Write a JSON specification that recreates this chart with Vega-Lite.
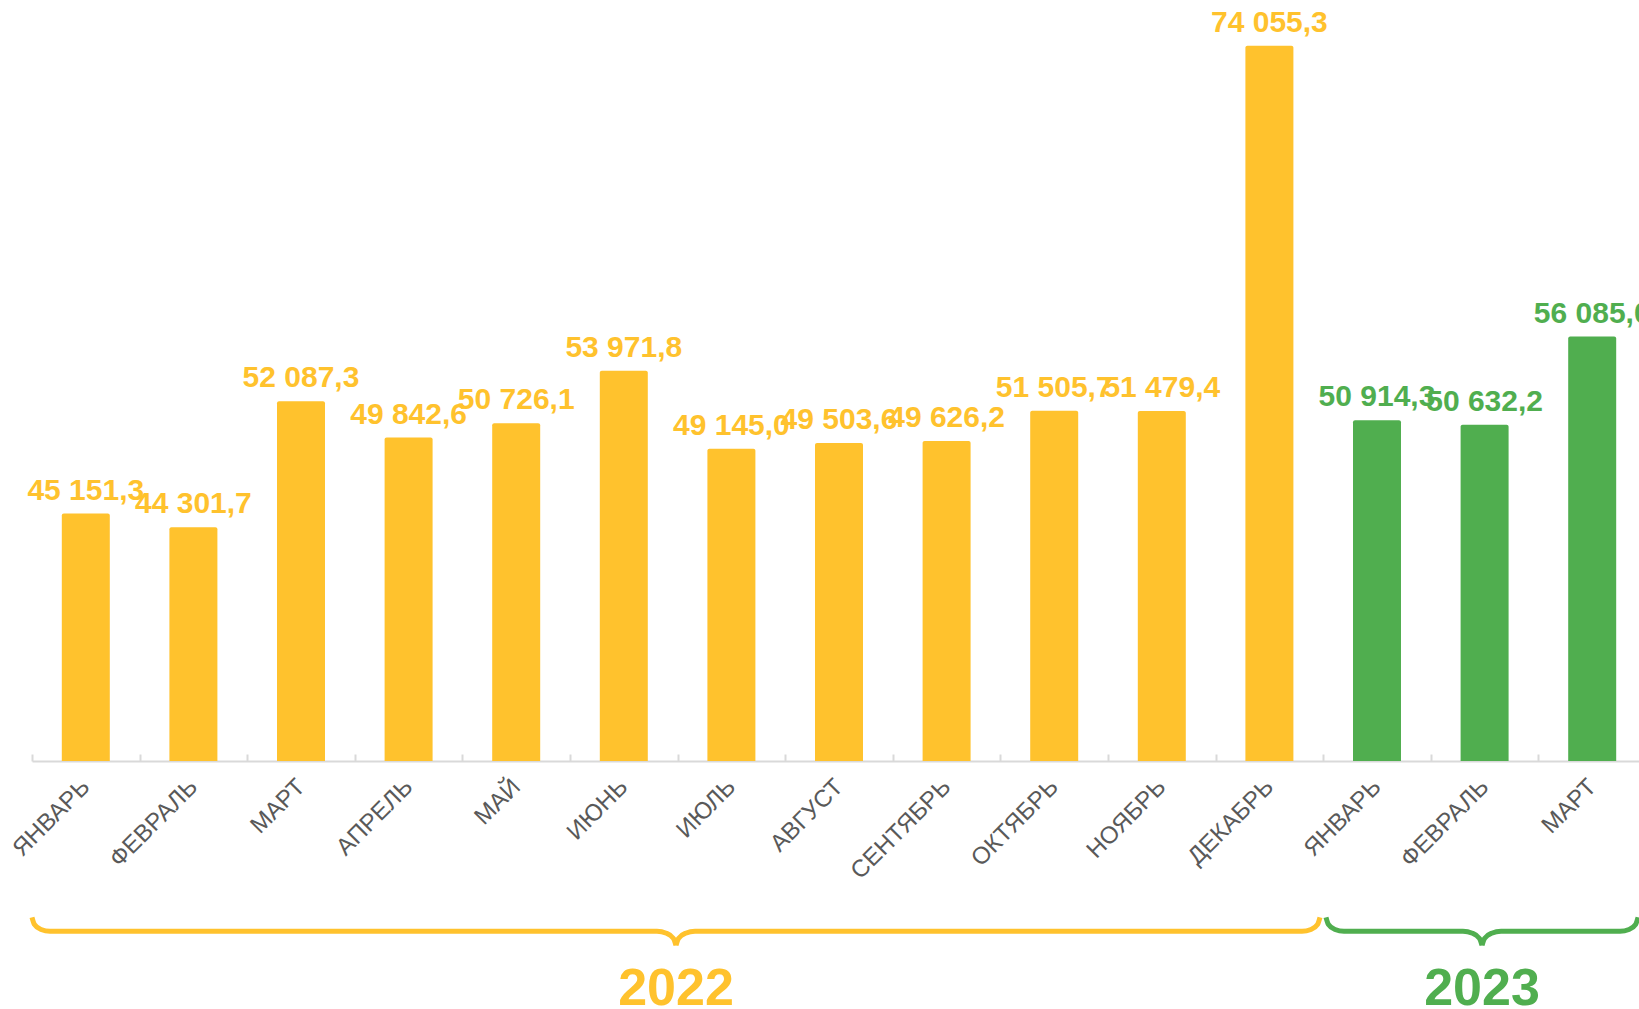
{
  "$schema": "https://vega.github.io/schema/vega-lite/v6.json",
  "width": 1607,
  "height": 761,
  "autosize": {"type": "none"},
  "padding": {"left": 32, "top": 0, "right": 0, "bottom": 248},
  "background": "white",
  "config": {
    "view": {"stroke": null},
    "font": "Liberation Sans",
    "locale": {"number": {"decimal": ",", "thousands": " ", "grouping": [3], "currency": ["", ""]}}
  },
  "datasets": {
    "bars": [
      {"month": "ЯНВАРЬ", "year": "2022", "value": 45151.3},
      {"month": "ФЕВРАЛЬ", "year": "2022", "value": 44301.7},
      {"month": "МАРТ", "year": "2022", "value": 52087.3},
      {"month": "АПРЕЛЬ", "year": "2022", "value": 49842.6},
      {"month": "МАЙ", "year": "2022", "value": 50726.1},
      {"month": "ИЮНЬ", "year": "2022", "value": 53971.8},
      {"month": "ИЮЛЬ", "year": "2022", "value": 49145.0},
      {"month": "АВГУСТ", "year": "2022", "value": 49503.6},
      {"month": "СЕНТЯБРЬ", "year": "2022", "value": 49626.2},
      {"month": "ОКТЯБРЬ", "year": "2022", "value": 51505.7},
      {"month": "НОЯБРЬ", "year": "2022", "value": 51479.4},
      {"month": "ДЕКАБРЬ", "year": "2022", "value": 74055.3},
      {"month": "ЯНВАРЬ\u200b", "year": "2023", "value": 50914.3},
      {"month": "ФЕВРАЛЬ\u200b", "year": "2023", "value": 50632.2},
      {"month": "МАРТ\u200b", "year": "2023", "value": 56085.0}
    ],
    "braces": [
      {"seg": "2022L", "year": "2022", "u": 0, "v": 20198},
      {"seg": "2022L", "year": "2022", "u": 0.022, "v": 19765},
      {"seg": "2022L", "year": "2022", "u": 0.084, "v": 19450},
      {"seg": "2022L", "year": "2022", "u": 0.167, "v": 19332},
      {"seg": "2022L", "year": "2022", "u": 5.808, "v": 19332},
      {"seg": "2022L", "year": "2022", "u": 5.896, "v": 19215},
      {"seg": "2022L", "year": "2022", "u": 5.961, "v": 18900},
      {"seg": "2022L", "year": "2022", "u": 5.985, "v": 18467},
      {"seg": "2022R", "year": "2022", "u": 5.985, "v": 18467},
      {"seg": "2022R", "year": "2022", "u": 6.009, "v": 18900},
      {"seg": "2022R", "year": "2022", "u": 6.074, "v": 19215},
      {"seg": "2022R", "year": "2022", "u": 6.162, "v": 19332},
      {"seg": "2022R", "year": "2022", "u": 11.803, "v": 19332},
      {"seg": "2022R", "year": "2022", "u": 11.886, "v": 19450},
      {"seg": "2022R", "year": "2022", "u": 11.948, "v": 19765},
      {"seg": "2022R", "year": "2022", "u": 11.97, "v": 20198},
      {"seg": "2023L", "year": "2023", "u": 12.026, "v": 20198},
      {"seg": "2023L", "year": "2023", "u": 12.048, "v": 19765},
      {"seg": "2023L", "year": "2023", "u": 12.11, "v": 19450},
      {"seg": "2023L", "year": "2023", "u": 12.193, "v": 19332},
      {"seg": "2023L", "year": "2023", "u": 13.299, "v": 19332},
      {"seg": "2023L", "year": "2023", "u": 13.387, "v": 19215},
      {"seg": "2023L", "year": "2023", "u": 13.452, "v": 18900},
      {"seg": "2023L", "year": "2023", "u": 13.476, "v": 18467},
      {"seg": "2023R", "year": "2023", "u": 13.476, "v": 18467},
      {"seg": "2023R", "year": "2023", "u": 13.5, "v": 18900},
      {"seg": "2023R", "year": "2023", "u": 13.565, "v": 19215},
      {"seg": "2023R", "year": "2023", "u": 13.653, "v": 19332},
      {"seg": "2023R", "year": "2023", "u": 14.759, "v": 19332},
      {"seg": "2023R", "year": "2023", "u": 14.842, "v": 19450},
      {"seg": "2023R", "year": "2023", "u": 14.904, "v": 19765},
      {"seg": "2023R", "year": "2023", "u": 14.926, "v": 20198}
    ],
    "years": [
      {"year": "2022", "u": 5.985, "v": 14758},
      {"year": "2023", "u": 13.476, "v": 14758}
    ]
  },
  "layer": [
    {
      "data": {"name": "bars"},
      "encoding": {
        "x": {
          "field": "month",
          "type": "nominal",
          "sort": null,
          "scale": {"range": [0, 1614], "paddingInner": 0, "paddingOuter": 0},
          "axis": {
            "title": null,
            "labelAngle": -45,
            "labelAlign": "right",
            "labelBaseline": "middle",
            "labelFont": "Liberation Sans",
            "labelFontSize": 24,
            "labelColor": "#595959",
            "labelPadding": 29,
            "domainColor": "#D9D9D9",
            "domainWidth": 2,
            "tickColor": "#D9D9D9",
            "tickWidth": 2,
            "tickSize": -7,
            "tickBand": "extent",
            "grid": false
          }
        },
        "color": {
          "field": "year",
          "type": "nominal",
          "scale": {"domain": ["2022", "2023"], "range": ["#FFC22D", "#50AE4F"]},
          "legend": null
        }
      },
      "layer": [
        {
          "mark": {"type": "bar", "width": {"band": 0.446}, "cornerRadiusTopLeft": 2, "cornerRadiusTopRight": 2},
          "encoding": {
            "y": {"field": "value", "type": "quantitative", "scale": {"domain": [29859, 76880], "zero": false, "nice": false}, "axis": null},
            "y2": {"datum": 29859}
          }
        },
        {
          "mark": {"type": "text", "align": "center", "baseline": "alphabetic", "dy": -14, "fontSize": 30, "fontWeight": "bold", "font": "Liberation Sans"},
          "encoding": {
            "y": {"field": "value", "type": "quantitative"},
            "text": {"field": "value", "type": "quantitative", "format": ",.1f"}
          }
        }
      ]
    },
    {
      "layer": [
        {
          "data": {"name": "braces"},
          "mark": {"type": "line", "strokeWidth": 5, "interpolate": "monotone", "strokeCap": "butt"},
          "encoding": {
            "x": {"field": "u", "type": "quantitative", "scale": {"domain": [0, 15], "range": [0, 1614], "nice": false, "zero": false}, "axis": null},
            "y": {"field": "v", "type": "quantitative"},
            "detail": {"field": "seg"},
            "order": {"field": "u"},
            "color": {"field": "year", "type": "nominal", "scale": {"domain": ["2022", "2023"], "range": ["#FFC22D", "#50AE4F"]}, "legend": null}
          }
        },
        {
          "data": {"name": "years"},
          "mark": {"type": "text", "align": "center", "baseline": "alphabetic", "fontSize": 52, "fontWeight": "bold", "font": "Liberation Sans"},
          "encoding": {
            "x": {"field": "u", "type": "quantitative"},
            "y": {"field": "v", "type": "quantitative"},
            "text": {"field": "year"},
            "color": {"field": "year", "type": "nominal", "scale": {"domain": ["2022", "2023"], "range": ["#FFC22D", "#50AE4F"]}, "legend": null}
          }
        }
      ]
    }
  ],
  "resolve": {"scale": {"x": "independent"}}
}
